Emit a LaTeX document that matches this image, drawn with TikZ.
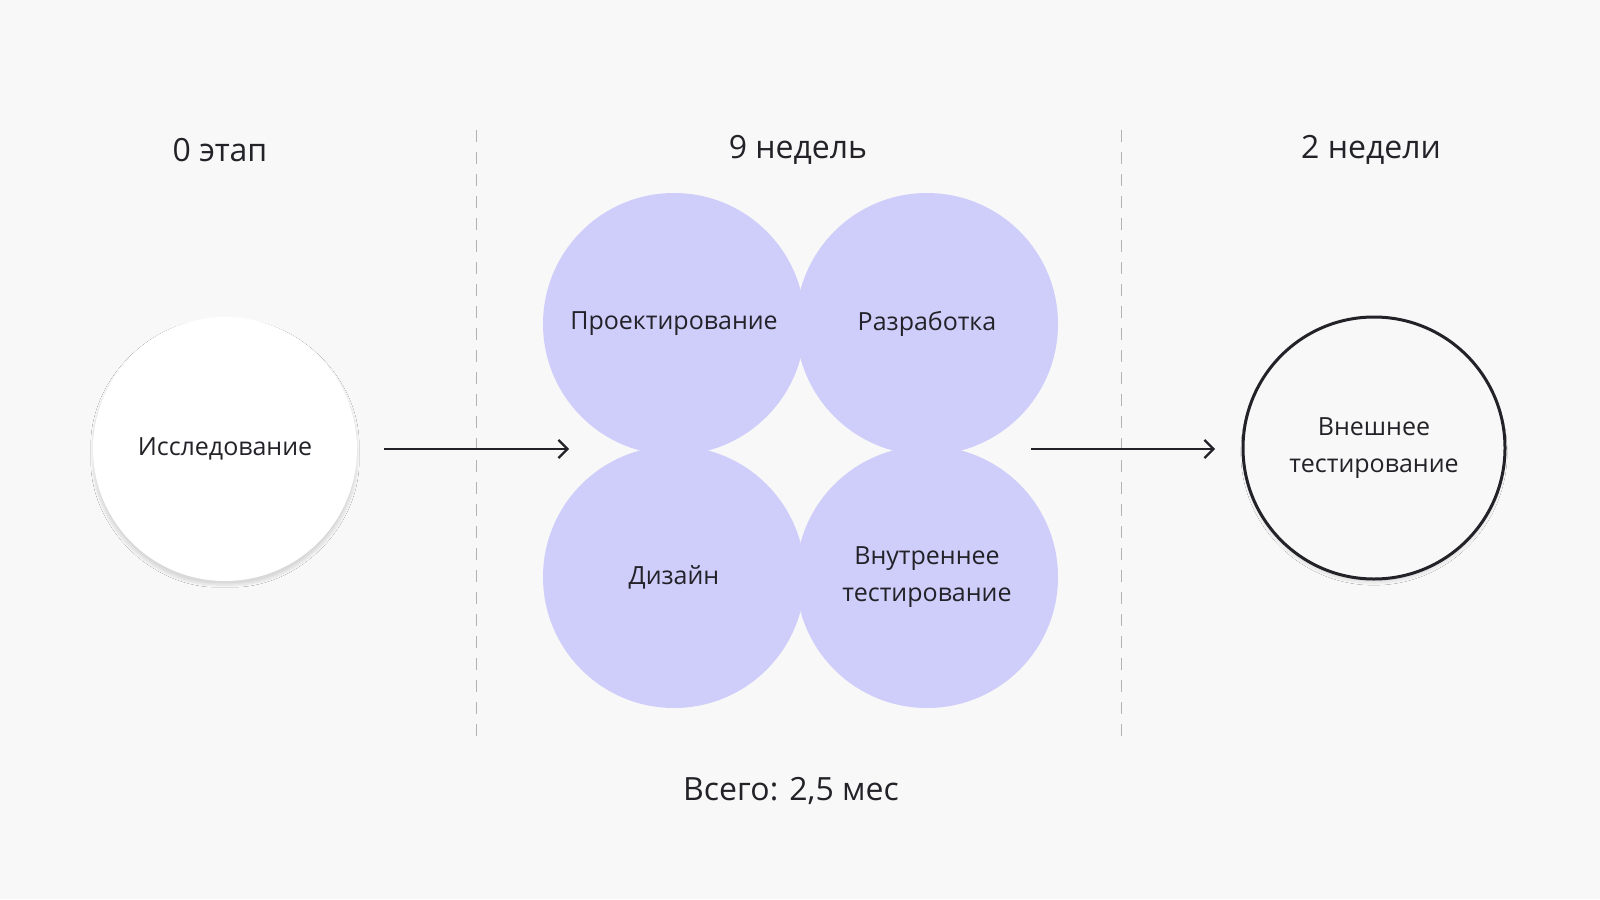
\documentclass[tikz,border=0pt]{standalone}
\usepackage{fontspec}
\setmainfont{Open Sans}
\usetikzlibrary{shadows.blur,arrows.meta}
\definecolor{bg}{HTML}{F8F8F8}
\definecolor{lav}{HTML}{CFCDFA}
\definecolor{ink}{HTML}{222228}
\begin{document}
\begin{tikzpicture}[x=1pt,y=-1pt,
  title/.style={font=\fontsize{32}{36}\selectfont,text=ink},
  lbl/.style={font=\fontsize{25}{37}\selectfont,text=ink,align=center},
  purple/.style={circle,fill=lav,minimum size=262pt,inner sep=0pt},
  sep/.style={dashed,dash pattern=on 12pt off 10pt,draw=gray!60,line width=1pt},
  arr/.style={draw=ink,line width=2.2pt,-{Straight Barb[length=9pt,width=18pt,line width=2.2pt]}}]
\fill[bg] (0,0) rectangle (1600,899);
\useasboundingbox (0,0) rectangle (1600,899);
\coordinate (s1a) at (476,130); \coordinate (s1b) at (476,739);
\coordinate (s2a) at (1121,130); \coordinate (s2b) at (1121,739);
\draw[sep] (s1a) -- (s1b);
\draw[sep] (s2a) -- (s2b);
\node[title] (t0) at (220,150) {0 этап};
\node[title] (t1) at (798,150) {9 недель};
\node[title] (t2) at (1371,150) {2 недели};
\node[circle,fill=white,minimum size=264pt,inner sep=0pt,blur shadow={shadow blur steps=12,shadow xshift=0pt,shadow yshift=-4pt,shadow blur extra rounding=8pt,shadow opacity=12}] (res) at (225,449) {};
\node[lbl] at (res) {Исследование};
\node[purple] (p1) at (674,324) {};
\node[purple] (p2) at (927,324) {};
\node[purple] (p3) at (674,577) {};
\node[purple] (p4) at (927,577) {};
\node[lbl] at (p1) {Проектирование};
\node[lbl] at (p2) {Разработка};
\node[lbl] at (p3) {Дизайн};
\node[lbl] at (p4) {Внутреннее\\тестирование};
\node[circle,draw=ink,line width=3pt,fill=bg,minimum size=262pt,inner sep=0pt,lbl,blur shadow={shadow blur steps=12,shadow xshift=0pt,shadow yshift=-4pt,shadow opacity=10}] (ext) at (1374,448) {Внешнее\\тестирование};
\coordinate (a1s) at (384,449); \coordinate (a1e) at (569,449);
\coordinate (a2s) at (1031,449); \coordinate (a2e) at (1215,449);
\draw[arr] (a1s) -- (a1e);
\draw[arr] (a2s) -- (a2e);
\node[title] (tot) at (791,791) {Всего: 2,5 мес};
\end{tikzpicture}
\end{document}
